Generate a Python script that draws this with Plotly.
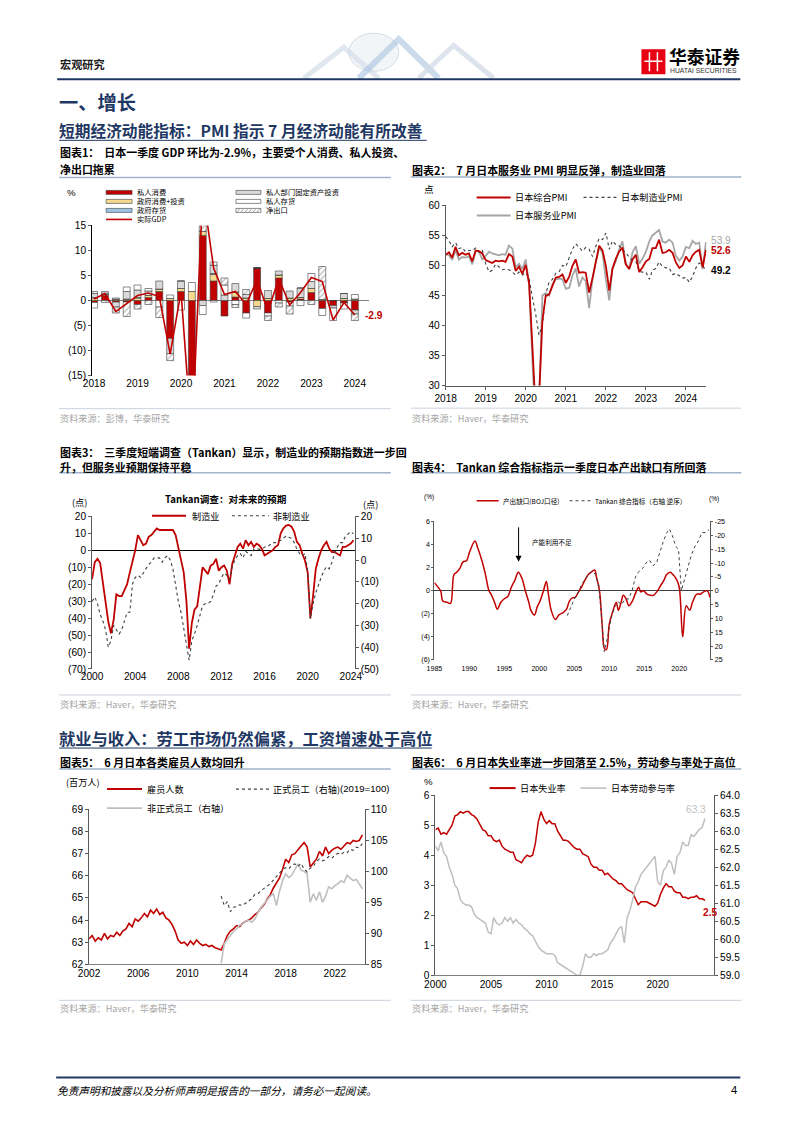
import plotly.graph_objects as go
import pandas as pd

# Figure sits inside the page body's 8px margin; the photograph of the page shows it
# slightly scaled, so target pixel positions are mapped back through that transform.
FW, FH = 786, 1117
KX, CX = 0.977, 12.0
KY, CY = 0.989, 5.9
FS = 1.015
def X(x): return ((x - CX) / KX - 8) / FW
def Y(y): return 1 - ((y - CY) / KY - 8) / FH
def F(s): return round(s * FS, 2)

CJK = "Noto Sans CJK SC"
LAT = "Liberation Sans, Arial, sans-serif"
RED = "#C00000"
GRAY = "#A6A6A6"
DOT = "#404040"
NAVY = "#1F3864"
SEP = "#9FB4CC"

# ---------------- DATA ----------------
# Chart 1: GDP QoQ annualised contributions, 2018Q1-2024Q1
gdp_quarters = [f"{y}Q{q}" for y in range(2018, 2025) for q in range(1, 5)][:25]
c1_cons = [-0.4, 1.0, -0.3, -0.3, -0.8, 0.6, 1.8, -7.6, 1.8, -17.0, 13.0, 3.9, -3.1, 0.7, -2.5, 6.5, -2.5, 4.5, -0.3, 0.3, 1.6, -1.6, -1.0, -0.5, -1.9]
c1_gov = [0.5, 0.2, 0.3, 0.3, 0.5, 0.4, 0.5, 0.4, 0.6, 1.8, 0.8, 1.3, 0.0, 1.0, 0.5, -1.2, 0.4, 0.6, 0.5, 0.3, 0.8, 0.2, 0.0, 0.4, 0.3]
c1_ginv = [0.1, 0.0, 0.0, 0.0, 0.1, 0.0, 0.0, 0.0, 0.0, 0.0, 0.0, 0.2, 0.0, 0.0, 0.0, 0.0, 0.0, 0.0, 0.0, 0.0, 0.0, 0.0, 0.0, 0.0, 0.0]
c1_fix = [0.8, 0.3, -1.0, 1.5, 1.5, 0.9, 1.6, -3.0, 1.5, -2.5, -1.0, 1.6, 1.1, 1.7, 0.7, -0.5, 1.6, 0.8, 1.4, 1.9, 1.4, 0.0, -0.5, 1.0, -0.8]
c1_pinv = [-1.1, 0.3, 0.2, 0.9, 1.0, 0.5, -1.3, 0.7, -1.9, 1.8, -1.8, -0.3, 2.0, -0.8, -1.0, 0.0, -0.6, -0.5, -0.8, -1.0, 1.6, -1.4, -2.5, -1.2, 0.9]
c1_nx = [0.4, -0.4, -1.2, -2.9, -0.9, -0.8, -2.1, -1.4, 0.0, -12.0, 10.0, 0.7, 1.4, -0.6, 1.0, 0.0, -0.9, -0.8, -1.6, 0.0, -0.8, 6.6, 0.0, 0.0, -1.3]
c1_gdp = [0.3, 1.4, -2.2, -0.6, 1.0, 1.5, 0.8, -10.7, 1.8, -28.0, 22.0, 6.5, 1.2, 1.8, -0.8, 4.2, -2.2, 4.4, -0.9, 1.6, 4.6, 3.8, -3.9, -0.4, -2.9]
c1_yticks = [15, 10, 5, 0, -5, -10, -15]
c1_ytext = ["15", "10", "5", "0", "(5)", "(10)", "(15)"]
c1_xticks = [2018, 2019, 2020, 2021, 2022, 2023, 2024]

# Chart 2: PMI monthly 2018-01 .. 2024-07
pmi_dates = pd.date_range("2018-01-01", periods=79, freq="MS")
pmi_comp = [51.8, 52.2, 51.3, 53.1, 51.7, 52.1, 51.8, 52.0, 50.7, 52.5, 52.4, 52.0,
            50.9, 50.7, 50.4, 50.8, 50.7, 50.8, 50.6, 51.9, 51.5, 49.1, 49.8, 48.6,
            50.1, 47.0, 36.2, 25.8, 27.8, 40.8, 44.9, 45.2, 46.6, 48.0, 48.1, 48.5,
            47.1, 48.2, 49.9, 51.0, 48.8, 48.9, 48.8, 45.5, 47.9, 50.7, 53.3, 52.5,
            49.9, 45.8, 49.4, 51.1, 52.3, 53.0, 50.2, 49.4, 51.0, 51.8, 48.9, 49.7,
            50.7, 51.1, 52.9, 52.9, 54.3, 52.1, 52.2, 52.6, 52.1, 50.5, 49.6, 50.0,
            51.5, 50.6, 51.7, 52.3, 52.6, 49.7, 52.6]
pmi_manu = [54.8, 54.1, 53.1, 53.8, 52.8, 53.0, 52.3, 52.5, 52.5, 52.9, 52.2, 52.6,
            50.3, 48.9, 49.2, 50.2, 49.8, 49.3, 49.4, 49.3, 48.9, 48.4, 48.9, 48.4,
            48.8, 47.8, 44.8, 41.9, 38.4, 40.1, 45.2, 47.2, 47.7, 48.7, 49.0, 50.0,
            49.8, 51.4, 52.7, 53.6, 53.0, 52.4, 53.0, 52.7, 51.5, 53.2, 54.5, 54.3,
            55.4, 52.7, 54.1, 53.5, 53.3, 52.7, 52.1, 51.5, 50.8, 50.7, 49.0, 48.9,
            48.9, 47.7, 49.2, 49.5, 50.6, 49.8, 49.6, 49.6, 48.5, 48.7, 48.3, 47.9,
            48.0, 47.2, 48.2, 49.6, 50.4, 50.0, 49.2]
pmi_serv = [51.9, 51.7, 50.9, 52.5, 51.0, 51.4, 51.3, 51.5, 50.2, 52.4, 52.3, 51.0,
            51.6, 52.3, 52.0, 51.8, 51.7, 51.9, 51.8, 53.3, 52.8, 49.7, 50.3, 49.4,
            51.0, 46.8, 33.8, 21.5, 26.5, 45.0, 45.4, 45.0, 46.9, 47.7, 47.8, 47.7,
            46.1, 46.3, 48.3, 49.5, 46.5, 48.0, 47.4, 42.9, 47.8, 50.7, 53.0, 52.1,
            47.6, 44.2, 49.4, 50.7, 52.6, 54.0, 50.3, 49.5, 52.2, 53.2, 50.3, 51.1,
            52.3, 54.0, 55.0, 55.4, 55.9, 54.0, 53.8, 54.3, 53.8, 51.6, 50.8, 51.5,
            53.1, 52.9, 54.1, 53.6, 53.8, 49.4, 53.9]
pmi_years = ["2018", "2019", "2020", "2021", "2022", "2023", "2024"]

# Chart 3: Tankan forecast DI, quarterly 2000Q1 .. 2024Q2
tk_manu = [-17, -7, -5, -7.5, -19, -30, -42, -49, -41, -26, -27, -27, -23, -20, -13, -7,
           0, 9, 6, 3, 4, 8, 9, 11, 13, 12, 12, 12, 12, 12, 12, 9,
           2, -5, -13, -30, -58, -43, -35, -33, -21, -10, -12, -14, -9, -8, -5, -12,
           -10, -9, -12, -20, -8, -3, 2, 4, 1, 6, 3, 5, 2, 4, 3, 1,
           -3, -2, -1, 0, 2, 3, 10, 13, 14.6, 15, 14, 11, 5, 3, -2, -6,
           -13, -40, -27, -11, -5, 0, 3, 5, 1, -1, -1, -2, -3, 2, 2, 3, 4, 6]
tk_nonmanu = [-19, -17, -20, -25, -28, -32, -40, -37, -30, -32, -34, -32, -28, -24, -24, -11,
              -8, -7, -8, -6, -4, -2, -1, 1, 1, 1, -1, 1, 2, 0, -4, -11,
              -19, -24, -32, -38, -46, -37, -34, -30, -26, -21, -20, -20, -19, -16, -12, -11,
              -8, -6, -7, -9, -3, 0, 2, 3, 1, 4, 3, 2, 5, 5, 5, 5,
              6, 6, 7, 8, 8, 9, 9, 10, 11, 10.5, 10, 8, 5, 3, 2, 3,
              -5, -27, -20, -15, -11, -8, -5, -3, -4, -1, 3, 6, 8, 8, 11, 12, 13, 12]
tk_lticks = [20, 10, 0, -10, -20, -30, -40, -50, -60, -70]
tk_ltext = ["20", "10", "0", "(10)", "(20)", "(30)", "(40)", "(50)", "(60)", "(70)"]
tk_rticks = [20, 10, 0, -10, -20, -30, -40, -50]
tk_rtext = ["20", "10", "0", "(10)", "(20)", "(30)", "(40)", "(50)"]

# Chart 4: output gap (BOJ) and Tankan composite (right, reversed)
gap_t = [1985.0, 1985.4, 1985.9, 1986.2, 1986.8, 1987.3, 1987.8, 1988.2, 1988.7, 1989.1, 1989.6, 1990.0,
         1990.8, 1991.2, 1991.8, 1992.3, 1992.8, 1993.1, 1993.6, 1994.0, 1994.5, 1995.0, 1995.5, 1996.0,
         1996.5, 1997.0, 1997.5, 1998.0, 1998.5, 1998.8, 1999.3, 1999.7, 2000.1, 2000.6, 2001.0, 2001.3,
         2001.7, 2002.3, 2002.8, 2003.4, 2003.9, 2004.3, 2004.8, 2005.1, 2005.6, 2006.1, 2006.6, 2007.0,
         2007.4, 2007.9, 2008.2, 2008.6, 2009.0, 2009.3, 2009.6, 2010.0, 2010.5, 2011.0, 2011.3, 2011.7,
         2012.0, 2012.4, 2012.8, 2013.3, 2013.7, 2014.2, 2014.5, 2014.9, 2015.4, 2015.9, 2016.3, 2016.8,
         2017.3, 2017.8, 2018.2, 2018.7, 2019.1, 2019.6, 2020.0, 2020.5, 2021.0, 2021.5, 2021.9, 2022.5,
         2023.0, 2023.5, 2024.0, 2024.4]
gap_v = [0.7, 0.4, 0.0, -0.9, -1.0, -1.1, 1.4, 1.6, 2.0, 2.5, 2.6, 3.3,
         4.3, 3.7, 2.6, 1.4, 0.0, -0.3, -1.0, -1.6, -1.0, -0.7, -0.5, 0.3,
         0.9, 1.6, 1.1, 0.0, -1.0, -1.7, -2.1, -1.4, -0.9, 0.0, 0.8, -0.3,
         -1.7, -2.5, -2.1, -1.9, -1.6, -0.9, -0.6, -0.6, -0.1, 0.4, 1.0, 1.4,
         1.6, 1.8, 1.1, 0.0, -3.1, -5.0, -5.1, -2.9, -1.8, -1.0, -1.7, -1.0,
         -0.4, -0.7, -1.3, -0.9, -0.3, 0.3, -0.1, 0.0, -0.3, -0.4, -0.4, -0.1,
         0.4, 0.9, 1.4, 1.6, 1.4, 1.0, 0.3, -4.0, -1.3, -1.7, -1.0, -0.3,
         -0.3, -0.1, 0.0, -0.6]
tkc_t = [2004.0, 2004.5, 2005.0, 2005.5, 2006.0, 2006.5, 2007.0, 2007.5, 2008.0, 2008.5, 2009.0, 2009.3,
         2009.75, 2010.25, 2010.75, 2011.25, 2011.75, 2012.25, 2012.75, 2013.25, 2013.75, 2014.25, 2014.75,
         2015.25, 2015.75, 2016.25, 2016.75, 2017.25, 2017.75, 2018.25, 2018.6, 2019.0, 2019.5, 2019.9,
         2020.3, 2020.75, 2021.25, 2021.75, 2022.25, 2022.75, 2023.25, 2023.75, 2024.25]
tkc_v = [9, 6, 3, 1, -2, -4, -6, -7, -6, -2, 14, 22,
         17, 10, 6, 4, 5, 3, 3, 0, -5, -7, -8,
         -10, -11, -9, -10, -14, -18, -21, -22.3, -20, -16, -15,
         0, -4, -9, -13, -16, -18, -21, -21, -22]
og_lticks = [6, 4, 2, 0, -2, -4, -6]
og_ltext = ["6", "4", "2", "0", "(2)", "(4)", "(6)"]
og_rticks = [-25, -20, -15, -10, -5, 0, 5, 10, 15, 20, 25]
og_rtext = ["-25", "-20", "-15", "-10", "-5", "0", "5", "10", "15", "20", "25"]
og_xticks = [1985, 1990, 1995, 2000, 2005, 2010, 2015, 2020]

# Chart 5: employees (left, mn) and regular / non-regular (right, 2019=100), quarterly
emp = [63.15, 63.3, 63.05, 63.2, 63.1, 63.4, 63.15, 63.3, 63.25, 63.45, 63.3, 63.5,
       63.6, 63.85, 63.7, 64.05, 63.95, 64.1, 64.3, 64.15, 64.45, 64.3, 64.5, 64.25,
       64.35, 64.1, 64.0, 63.8, 63.5, 63.1, 62.95, 63.0, 62.85, 63.05, 62.9, 63.1,
       62.95, 62.85, 62.9, 62.8, 62.85, 62.75, 62.7, 62.65, 62.95, 63.3, 63.5, 63.6,
       63.75, 63.7, 63.85, 63.95, 64.0, 64.1, 64.25, 64.35, 64.55, 64.7, 64.95, 65.15,
       65.45, 65.7, 65.9, 66.3, 66.75, 66.6, 66.95, 67.0, 67.2, 67.35, 67.5, 67.3,
       66.4, 66.6, 66.75, 67.1, 66.9, 67.3, 67.0, 67.15, 67.25, 67.3, 67.2, 67.35,
       67.5, 67.45, 67.6, 67.55, 67.6, 67.85]
reg = [96.0, 94.5, 95.1, 93.5, 94.2, 94.3, 94.6, 94.5, 94.9, 95.2, 95.6, 96.3, 96.4,
       96.9, 97.3, 97.6, 98.0, 98.6, 99.2, 99.8, 100.3, 100.6, 100.4, 101.0, 101.2,
       100.8, 101.3, 100.4, 99.9, 100.5, 100.8, 101.6, 102.0, 101.7, 101.9, 102.4, 102.1,
       102.6, 102.9, 102.7, 103.1, 103.0, 103.6, 103.4, 103.9, 103.8, 104.5]
nonreg = [85.2, 88.3, 89.0, 89.6, 90.3, 90.7, 91.3, 91.5, 92.0, 92.1, 91.8, 92.3, 93.4,
          94.2, 94.8, 95.3, 96.0, 96.4, 94.5, 96.8, 98.5, 99.6, 99.0, 99.4, 100.4,
          101.2, 100.2, 100.0, 99.6, 95.0, 96.4, 95.3, 96.7, 95.0, 96.0, 97.5, 97.2,
          97.7, 98.0, 98.5, 98.2, 99.4, 98.9, 98.5, 98.7, 97.9, 97.2]
emp_xticks = [2002, 2006, 2010, 2014, 2018, 2022]

# Chart 6: unemployment rate (left) and participation rate (right), quarterly 2000Q1..2024Q2
unemp = [4.85, 4.9, 4.7, 4.75, 4.7, 4.85, 5.0, 5.3, 5.35, 5.45, 5.4, 5.45,
         5.45, 5.35, 5.3, 5.2, 5.0, 4.85, 4.8, 4.65, 4.65, 4.5, 4.45, 4.5,
         4.3, 4.2, 4.15, 4.1, 4.1, 3.85, 3.8, 3.75, 3.9, 4.0, 3.95, 4.0,
         4.4, 5.1, 5.45, 5.2, 5.05, 5.15, 5.05, 5.05, 4.8, 4.65, 4.5, 4.5,
         4.45, 4.35, 4.25, 4.2, 4.2, 4.05, 4.0, 3.95, 3.7, 3.6, 3.6, 3.5,
         3.5, 3.35, 3.4, 3.3, 3.2, 3.15, 3.05, 3.05, 2.95, 2.85, 2.8, 2.75,
         2.55, 2.35, 2.45, 2.45, 2.45, 2.4, 2.35, 2.3, 2.4, 2.7, 2.9, 3.05,
         2.95, 2.95, 2.8, 2.75, 2.75, 2.6, 2.6, 2.55, 2.6, 2.6, 2.65, 2.55, 2.55, 2.5]
lfpr = [62.6, 62.45, 62.7, 62.4, 62.3, 62.0, 61.8, 61.5, 61.4, 61.1, 61.0, 60.95,
        60.95, 60.9, 60.7, 60.6, 60.55, 60.5, 60.45, 60.2, 60.15, 60.6, 60.45, 60.4,
        60.45, 60.6, 60.5, 60.6, 60.45, 60.55, 60.45, 60.4, 60.3, 60.25, 60.15, 60.1,
        59.95, 59.8, 59.7, 59.65, 59.6, 59.6, 59.6, 59.55, 59.35, 59.3, 59.25, 59.2,
        59.15, 59.1, 59.05, 59.0, 59.0, 59.25, 59.6, 59.5, 59.5, 59.6, 59.55, 59.6,
        59.6, 59.65, 59.7, 59.9, 60.0, 60.15, 60.3, 60.35, 59.9, 60.6, 60.8, 61.1,
        61.45, 61.6, 61.8, 61.9, 62.0, 62.1, 62.2, 62.3, 61.6, 61.5, 61.9, 62.0,
        62.2, 62.1, 61.8, 62.3, 62.4, 62.7, 62.6, 62.6, 62.9, 62.85, 62.95, 63.05, 63.1, 63.35]
ur_xticks = [2000, 2005, 2010, 2015, 2020]

# ---------------- FIGURE ----------------
fig = go.Figure()

# Chart 1
qx = [int(q[:4]) + (int(q[-1]) - 1) / 4 for q in gdp_quarters]
bar_specs = [
    ("私人消费", c1_cons, dict(color=RED)),
    ("政府消费+投资", c1_gov, dict(color="#F6D98E")),
    ("政府存货", c1_ginv, dict(color="#9DC3E6")),
    ("私人部门固定资产投资", c1_fix, dict(color="#D9D9D9")),
    ("私人存货", c1_pinv, dict(color="#FFFFFF")),
    ("净出口", c1_nx, dict(color="#FFFFFF", pattern=dict(shape="/", fgcolor="#808080", bgcolor="#FFFFFF", size=4, solidity=0.35))),
]
for name, vals, mk in bar_specs:
    mk = dict(mk)
    mk["line"] = dict(color="#404040", width=0.6)
    fig.add_trace(go.Bar(x=qx, y=vals, name=name, marker=mk, width=0.16, xaxis="x", yaxis="y"))
fig.add_trace(go.Scatter(x=qx, y=c1_gdp, name="实际GDP", mode="lines",
                         line=dict(color=RED, width=1.6), xaxis="x", yaxis="y"))

# Chart 2
fig.add_trace(go.Scatter(x=pmi_dates, y=pmi_serv, mode="lines", line=dict(color=GRAY, width=1.8), xaxis="x2", yaxis="y2"))
fig.add_trace(go.Scatter(x=pmi_dates, y=pmi_manu, mode="lines", line=dict(color=DOT, width=1.1, dash="dot"), xaxis="x2", yaxis="y2"))
fig.add_trace(go.Scatter(x=pmi_dates, y=pmi_comp, mode="lines", line=dict(color=RED, width=1.8), xaxis="x2", yaxis="y2"))

# Chart 3
tkx = [2000 + i / 4 for i in range(len(tk_manu))]
fig.add_trace(go.Scatter(x=tkx, y=tk_nonmanu, mode="lines", line=dict(color=DOT, width=1.1, dash="dot"), xaxis="x3", yaxis="y4"))
fig.add_trace(go.Scatter(x=tkx, y=tk_manu, mode="lines", line=dict(color=RED, width=1.8), xaxis="x3", yaxis="y3"))

# Chart 4
fig.add_trace(go.Scatter(x=tkc_t, y=tkc_v, mode="lines", line=dict(color=DOT, width=1.0, dash="dot"), xaxis="x4", yaxis="y6"))
fig.add_trace(go.Scatter(x=gap_t, y=gap_v, mode="lines", line=dict(color=RED, width=1.5, shape="spline"), xaxis="x4", yaxis="y5"))

# Chart 5
ex = [2002 + i / 4 for i in range(len(emp))]
rx = [2012.75 + i / 4 for i in range(len(reg))]
fig.add_trace(go.Scatter(x=rx, y=nonreg, mode="lines", line=dict(color="#BFBFBF", width=1.6), xaxis="x5", yaxis="y8"))
fig.add_trace(go.Scatter(x=rx, y=reg, mode="lines", line=dict(color=DOT, width=1.1, dash="dot"), xaxis="x5", yaxis="y8"))
fig.add_trace(go.Scatter(x=ex, y=emp, mode="lines", line=dict(color=RED, width=1.6), xaxis="x5", yaxis="y7"))

# Chart 6
ux = [2000 + i / 4 for i in range(len(unemp))]
fig.add_trace(go.Scatter(x=ux, y=lfpr, mode="lines", line=dict(color="#BFBFBF", width=1.5), xaxis="x6", yaxis="y10"))
fig.add_trace(go.Scatter(x=ux, y=unemp, mode="lines", line=dict(color=RED, width=1.5), xaxis="x6", yaxis="y9"))

# ---------------- AXES ----------------
TF = dict(family=LAT, size=F(10), color="#000")
TF7 = dict(family=LAT, size=F(7), color="#000")

def yax(top, bottom, **kw):
    d = dict(domain=[Y(bottom), Y(top)], showgrid=False, zeroline=False, showline=True,
             linecolor="#595959", linewidth=1, ticks="outside", ticklen=3, tickcolor="#595959",
             tickfont=TF, fixedrange=True)
    d.update(kw)
    return d

def yax2(overlay, anchor, **kw):
    d = dict(overlaying=overlay, side="right", anchor=anchor, showgrid=False, zeroline=False,
             showline=True, linecolor="#595959", ticks="outside", ticklen=3, tickcolor="#595959",
             tickfont=TF, fixedrange=True)
    d.update(kw)
    return d

def xax(left, right, **kw):
    d = dict(domain=[X(left), X(right)], showgrid=False, zeroline=False, showline=False,
             ticks="", tickfont=TF, fixedrange=True)
    d.update(kw)
    return d

layout_axes = dict(
    xaxis=xax(93, 370, range=[2017.954, 2024.32], anchor="y", tickvals=c1_xticks,
              ticktext=[str(v) for v in c1_xticks]),
    yaxis=yax(226, 376, range=[-15, 15], anchor="x", tickvals=c1_yticks, ticktext=c1_ytext,
              zeroline=True, zerolinecolor="#808080", zerolinewidth=1, linecolor="#000"),
    xaxis2=xax(447, 708, type="date", range=["2018-01-01", "2024-07-05"], anchor="y2",
               tickvals=[f"{y}-01-01" for y in pmi_years], ticktext=pmi_years,
               showline=True, linecolor="#595959", ticks="outside", ticklen=3, tickcolor="#595959"),
    yaxis2=yax(206, 386, range=[30, 60], dtick=5, anchor="x2"),
    xaxis3=xax(93, 356, range=[2000, 2024.37], anchor="y3", tickvals=list(range(2000, 2025, 4))),
    yaxis3=yax(516.7, 669, range=[-70, 20], anchor="x3", tickvals=tk_lticks, ticktext=tk_ltext,
               zeroline=True, zerolinecolor="#000", zerolinewidth=1.2),
    yaxis4=yax2("y3", "x3", range=[-50, 20], tickvals=tk_rticks, ticktext=tk_rtext),
    xaxis4=xax(435.7, 712, range=[1985, 2024.45], anchor="y5", tickvals=og_xticks, tickfont=TF7,
               ticklabelstandoff=3),
    yaxis5=yax(521.7, 660, range=[-6, 6], anchor="x4", tickvals=og_lticks, ticktext=og_ltext,
               zeroline=True, zerolinecolor="#404040", zerolinewidth=1, tickfont=TF7, ticklen=2),
    yaxis6=yax2("y5", "x4", range=[25, -25], tickvals=og_rticks, ticktext=og_rtext,
                tickfont=TF7, ticklen=2),
    xaxis5=xax(90, 366, range=[2002, 2024.44], anchor="y7", tickvals=emp_xticks,
               showline=True, linecolor="#808080"),
    yaxis7=yax(809.3, 964, range=[62, 69], dtick=1, anchor="x5"),
    yaxis8=yax2("y7", "x5", range=[85, 110], dtick=5),
    xaxis6=xax(436.7, 715.7, range=[2000, 2025.07], anchor="y9", tickvals=ur_xticks,
               showline=True, linecolor="#808080"),
    yaxis9=yax(795, 975, range=[0, 6], dtick=1, anchor="x6"),
    yaxis10=yax2("y9", "x6", range=[59, 64], dtick=0.5, tickformat=".1f"),
)

# ---------------- DECORATION ----------------
shapes = []
annotations = []

def line(x0, y0, x1, y1, color, width=1, dash="solid"):
    shapes.append(dict(type="line", xref="paper", yref="paper", x0=X(x0), y0=Y(y0), x1=X(x1), y1=Y(y1),
                       line=dict(color=color, width=width, dash=dash), layer="above"))

def rect(x0, y0, x1, y1, fill, lc="#404040", lw=0.6):
    shapes.append(dict(type="rect", xref="paper", yref="paper", x0=X(x0), y0=Y(y0), x1=X(x1), y1=Y(y1),
                       fillcolor=fill, line=dict(color=lc, width=lw), layer="above"))

def path(pts, color, width=1, opacity=1.0):
    p = "M " + " L ".join(f"{X(a):.5f},{Y(b):.5f}" for a, b in pts)
    shapes.append(dict(type="path", xref="paper", yref="paper", path=p, line=dict(color=color, width=width),
                       opacity=opacity, layer="below"))

def text(x, y, s, size, color="#000", bold=False, anchor="left", family=CJK, italic=False):
    if bold:
        s = f"<b>{s}</b>"
    if italic:
        s = f"<i>{s}</i>"
    annotations.append(dict(xref="paper", yref="paper", x=X(x), y=Y(y), text=s, showarrow=False,
                            xanchor=anchor, yanchor="middle", borderpad=0,
                            font=dict(size=F(size), color=color, family=family)))

# header decoration (globe + ribbons)
shapes.append(dict(type="circle", xref="paper", yref="paper", x0=X(350), y0=Y(72), x1=X(400), y1=Y(34),
                   line=dict(color="#D5DCE4", width=1), fillcolor="rgba(230,236,242,0.5)", layer="below"))
path([(305, 79), (345, 48), (380, 79)], "#D3DDE9", width=5, opacity=0.7)
path([(360, 79), (400, 40), (440, 79)], "#A9C4E0", width=6, opacity=0.6)
path([(420, 79), (455, 46), (495, 79)], "#D0DAE6", width=5, opacity=0.7)

# logo
rect(643, 50, 667, 75, "#E60012", lc="#E60012", lw=0)
line(651, 53, 651, 72, "#FFFFFF", 1.5)
line(659, 53, 659, 72, "#FFFFFF", 1.5)
line(646, 62, 664, 62, "#FFFFFF", 1.5)
text(670, 57, "华泰证券", 17.5, bold=True)
text(671, 71, "HUATAI SECURITIES", 6.7, family=LAT, color="#333")
text(60, 65, "宏观研究", 11, color="#1A1A1A", bold=True)
line(58, 80, 742, 80, NAVY, 2)

# section headings
text(59, 103, "一、增长", 19, color=NAVY, bold=True)
text(59, 131, "短期经济动能指标：PMI 指示 7 月经济动能有所改善", 15.5, color=NAVY, bold=True)
line(60, 141, 428, 141, NAVY, 1)
text(59, 738, "就业与收入：劳工市场仍然偏紧，工资增速处于高位", 16, color=NAVY, bold=True)
line(60, 748, 433, 748, NAVY, 1)

# chart titles
TT = 10.8
text(60, 153, "图表1：  日本一季度 GDP 环比为-2.9%，主要受个人消费、私人投资、", TT, bold=True)
text(60, 170, "净出口拖累", TT, bold=True)
line(60, 178, 392, 178, SEP, 1.5)
text(412, 171, "图表2：  7 月日本服务业 PMI 明显反弹，制造业回落", TT, bold=True)
line(412, 177.5, 743, 177.5, SEP, 1.5)
text(60, 452, "图表3：  三季度短端调查（Tankan）显示，制造业的预期指数进一步回", TT, bold=True)
text(60, 467, "升，但服务业预期保持平稳", TT, bold=True)
line(60, 473, 392, 473, SEP, 1.5)
text(412, 467, "图表4：  Tankan 综合指标指示一季度日本产出缺口有所回落", TT, bold=True)
line(412, 473, 743, 473, SEP, 1.5)
text(60, 762, "图表5：  6 月日本各类雇员人数均回升", TT, bold=True)
line(60, 769, 392, 769, SEP, 1.5)
text(412, 762, "图表6：  6 月日本失业率进一步回落至 2.5%，劳动参与率处于高位", TT, bold=True)
line(412, 769, 743, 769, SEP, 1.5)

# sources
SRC = "#A6A6A6"
for (x0, x1, yl, ys, s) in [(60, 392, 409, 418, "资料来源：彭博，华泰研究"),
                            (412, 743, 408.5, 418, "资料来源：Haver，华泰研究"),
                            (60, 392, 695, 704, "资料来源：Haver，华泰研究"),
                            (412, 743, 695, 704, "资料来源：Haver，华泰研究"),
                            (60, 392, 1000, 1008, "资料来源：Haver，华泰研究"),
                            (412, 743, 1000, 1008, "资料来源：Haver，华泰研究")]:
    line(x0, yl, x1, yl, "#C9D3DE", 1)
    text(x0, ys, s, 9, color=SRC)

# footer
line(57, 1077, 742, 1077, NAVY, 2)
text(57, 1090, "免责声明和披露以及分析师声明是报告的一部分，请务必一起阅读。", 10.5, color="#000", italic=True)
text(740, 1090, "4", 11, family=LAT, anchor="right")

# ---- chart 1 legend ----
LG = 7.2
text(67, 193, "%", 9.5, family=LAT)
rect(107, 191, 133, 195, RED)
text(137, 193, "私人消费", LG)
rect(107, 200, 133, 204, "#F6D98E")
text(137, 202, "政府消费+投资", LG)
rect(107, 209, 133, 213, "#9DC3E6")
text(137, 211, "政府存货", LG)
line(107, 220, 133, 220, RED, 1.6)
text(137, 220, "实际GDP", LG)
rect(237, 191, 262, 195, "#D9D9D9")
text(266, 193, "私人部门固定资产投资", LG)
rect(237, 200, 262, 204, "#FFFFFF")
text(266, 202, "私人存货", LG)
rect(237, 209, 262, 213, "#FFFFFF")
for k in range(6):
    line(238 + 4 * k, 213, 241 + 4 * k, 209, "#808080", 0.7)
text(266, 211, "净出口", LG)
text(365, 316, "-2.9", 10, color=RED, bold=True, family=LAT)

# ---- chart 2 legend ----
L2 = 9
text(424, 190, "点", 9.5)
line(478, 198, 512, 198, RED, 2)
text(515, 198, "日本综合PMI", L2)
line(585, 198, 618, 198, DOT, 1.1, "dot")
text(622, 198, "日本制造业PMI", L2)
line(478, 216, 512, 216, GRAY, 2)
text(515, 216, "日本服务业PMI", L2)
text(712, 241, "53.9", 10, color=GRAY, family=LAT)
text(712, 251, "52.6", 10, color=RED, bold=True, family=LAT)
text(712, 271, "49.2", 10, color="#000", bold=True, family=LAT)

# ---- chart 3 legend ----
text(227, 499, "Tankan调查：对未来的预期", 9.5, bold=True, anchor="center")
text(72, 502, "(点)", 9)
text(363, 504, "(点)", 9)
line(153, 516, 187, 516, RED, 2)
text(192, 516, "制造业", 9)
line(233, 516, 270, 516, DOT, 1.1, "dot")
text(273, 516, "非制造业", 9)

# ---- chart 4 legend ----
text(424, 497, "(%)", 6.5, family=LAT)
text(710, 499, "(%)", 6.5, family=LAT)
line(478, 501, 500, 501, RED, 1.5)
text(503, 501, "产出缺口(BOJ口径)", 6.5)
line(571, 501, 593, 501, DOT, 1, "dot")
text(596, 501, "Tankan 综合指标（右轴 逆序）", 6.5)
text(532, 542, "产能利用不足", 6.5)
annotations.append(dict(xref="paper", yref="paper", x=X(520), y=Y(562), ax=0, ay=-36, text="",
                        showarrow=True, arrowhead=2, arrowsize=1.2, arrowwidth=1, arrowcolor="#000"))

# ---- chart 5 legend ----
text(66, 782, "(百万人)", 9)
line(108, 789, 143, 789, RED, 2)
text(147, 789, "雇员人数", 9)
line(237, 789, 270, 789, DOT, 1.1, "dot")
text(273, 789, "正式员工（右轴)", 9)
text(392, 788, "(2019=100)", 9.5, family=LAT, anchor="right")
line(108, 808, 143, 808, "#BFBFBF", 1.6)
text(147, 808, "非正式员工（右轴）", 9)

# ---- chart 6 legend ----
text(424, 781, "%", 9.5, family=LAT)
line(491, 788, 517, 788, RED, 2)
text(520, 788, "日本失业率", 9)
line(582, 788, 608, 788, "#BFBFBF", 1.6)
text(612, 788, "日本劳动参与率", 9)
text(698, 809, "63.3", 10, color="#BFBFBF", family=LAT, anchor="center")
text(712, 912, "2.5", 10, color=RED, bold=True, family=LAT, anchor="center")

fig.update_layout(
    width=FW, height=FH, margin=dict(l=0, r=0, t=0, b=0),
    paper_bgcolor="#FFFFFF", plot_bgcolor="rgba(0,0,0,0)",
    showlegend=False, barmode="relative",
    font=dict(family=CJK, size=10, color="#000"),
    shapes=shapes, annotations=annotations,
    **layout_axes,
)

fig.write_html("out.html")
